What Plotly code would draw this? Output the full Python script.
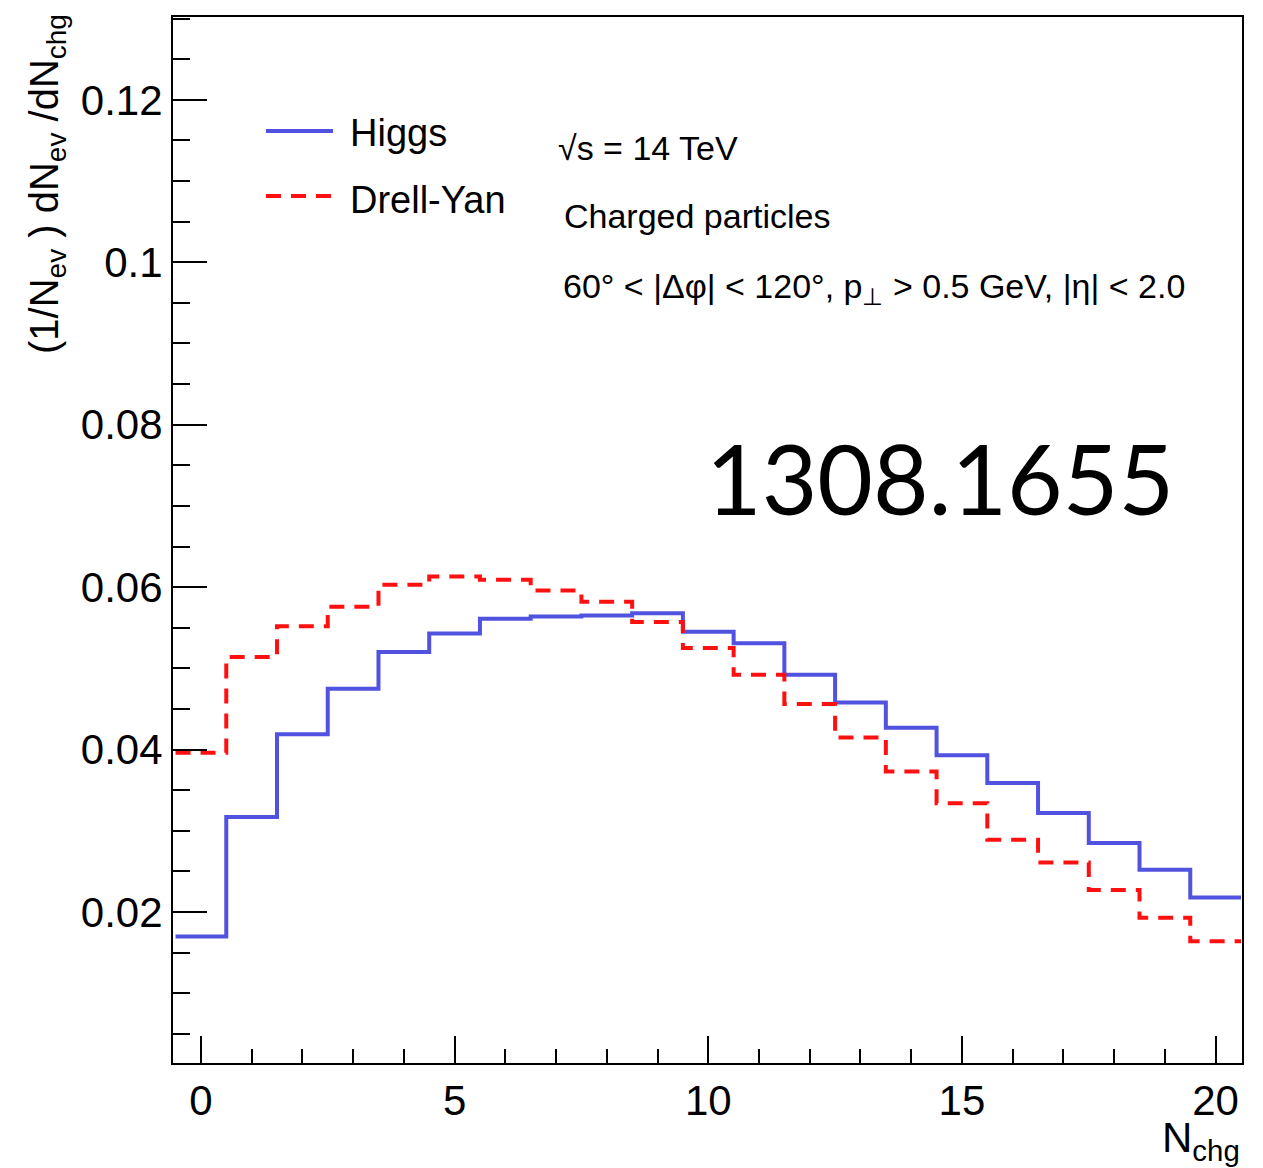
import plotly.graph_objects as go

# ---- data ----
n_chg = list(range(0, 21))
higgs = [0.0170, 0.0317, 0.0419, 0.0475, 0.0520, 0.0543, 0.0561, 0.0564, 0.0565, 0.0568,
         0.0545, 0.0531, 0.0492, 0.0458, 0.0427, 0.0393, 0.0359, 0.0322, 0.0285, 0.0252, 0.0218]
drell_yan = [0.0396, 0.0514, 0.0552, 0.0576, 0.0603, 0.0613, 0.0609, 0.0596, 0.0582, 0.0557,
             0.0525, 0.0492, 0.0456, 0.0415, 0.0373, 0.0334, 0.0289, 0.0261, 0.0227, 0.0193, 0.0164]
x_ticks = [0, 5, 10, 15, 20]
y_ticks = [0.02, 0.04, 0.06, 0.08, 0.10, 0.12]
y_tick_labels = ["0.02", "0.04", "0.06", "0.08", "0.1", "0.12"]

bin_width = 1.0
edges = [c - bin_width / 2 for c in n_chg] + [n_chg[-1] + bin_width / 2]

HIGGS_COLOR = "#5252e0"
DY_COLOR = "#ff1010"
FONT = "Liberation Sans, Arial, Helvetica, sans-serif"

fig = go.Figure()
fig.add_trace(go.Scatter(x=edges, y=higgs + [higgs[-1]], mode="lines", line_shape="hv",
                         name="Higgs", line=dict(color=HIGGS_COLOR, width=4), showlegend=False))
fig.add_trace(go.Scatter(x=edges, y=drell_yan + [drell_yan[-1]], mode="lines", line_shape="hv",
                         name="Drell-Yan", line=dict(color=DY_COLOR, width=4, dash="15px,10px"),
                         showlegend=False))

W, H = 1263, 1168
L, R, T, B = 173, 21, 17, 105
pw, ph = W - L - R, H - T - B


def px(xp):
    return (xp - L) / pw


def py(yp):
    return (H - B - yp) / ph


shapes = [
    dict(type="line", xref="paper", yref="paper", x0=px(266), x1=px(333), y0=py(131), y1=py(131),
         line=dict(color=HIGGS_COLOR, width=4)),
    dict(type="line", xref="paper", yref="paper", x0=px(266), x1=px(333), y0=py(196), y1=py(196),
         line=dict(color=DY_COLOR, width=4, dash="15px,10px")),
]

annotations = [
    dict(text="Higgs", x=px(348), y=py(133), xref="paper", yref="paper", xanchor="left",
         yanchor="middle", showarrow=False, font=dict(family=FONT, size=38, color="black")),
    dict(text="Drell-Yan", x=px(348), y=py(200), xref="paper", yref="paper", xanchor="left",
         yanchor="middle", showarrow=False, font=dict(family=FONT, size=38, color="black")),
    dict(text="√s = 14 TeV", x=px(556), y=py(148), xref="paper", yref="paper", xanchor="left",
         yanchor="middle", showarrow=False, font=dict(family=FONT, size=34, color="black")),
    dict(text="Charged particles", x=px(562), y=py(216), xref="paper", yref="paper", xanchor="left",
         yanchor="middle", showarrow=False, font=dict(family=FONT, size=34, color="black")),
    dict(text="60° < |Δφ| < 120°, p<sub>⊥</sub> > 0.5 GeV, |η| < 2.0", x=px(561), y=py(288),
         xref="paper", yref="paper", xanchor="left", yanchor="middle", showarrow=False,
         font=dict(family=FONT, size=34, color="black")),
    dict(text="1308.1655", x=px(940), y=py(478), xref="paper", yref="paper", xanchor="center",
         yanchor="middle", showarrow=False, font=dict(family="Lato, sans-serif", size=96, color="black")),
    dict(text="(1/N<sub>ev</sub> ) dN<sub>ev</sub> /dN<sub>chg</sub>", x=px(47), y=py(12),
         xref="paper", yref="paper", xanchor="center", yanchor="top", textangle=-90,
         showarrow=False, font=dict(family=FONT, size=40, color="black")),
    dict(text="N<sub>chg</sub>", x=px(1242), y=py(1112), xref="paper", yref="paper",
         xanchor="right", yanchor="top", showarrow=False,
         font=dict(family=FONT, size=42, color="black")),
]

fig.update_layout(
    width=W, height=H,
    margin=dict(l=L, r=R, t=T, b=B),
    paper_bgcolor="white", plot_bgcolor="white",
    shapes=shapes, annotations=annotations,
    showlegend=False,
)
fig.update_xaxes(
    range=[-0.55, 20.52], tickvals=x_ticks, ticktext=[str(v) for v in x_ticks],
    ticks="inside", ticklen=27, tickwidth=2, tickcolor="black",
    minor=dict(dtick=1, tick0=0, ticks="inside", ticklen=14, tickwidth=2, tickcolor="black"),
    showline=True, linecolor="black", linewidth=2, mirror=True, showgrid=False, zeroline=False,
    tickfont=dict(family=FONT, size=42, color="black"),
)
fig.update_yaxes(
    range=[0.00141, 0.1302], tickvals=y_ticks, ticktext=y_tick_labels,
    ticks="inside", ticklen=34, tickwidth=2, tickcolor="black",
    minor=dict(dtick=0.005, tick0=0, ticks="inside", ticklen=17, tickwidth=2, tickcolor="black"),
    showline=True, linecolor="black", linewidth=2, mirror=True, showgrid=False, zeroline=False,
    tickfont=dict(family=FONT, size=42, color="black"),
)

fig.write_html("out.html")
